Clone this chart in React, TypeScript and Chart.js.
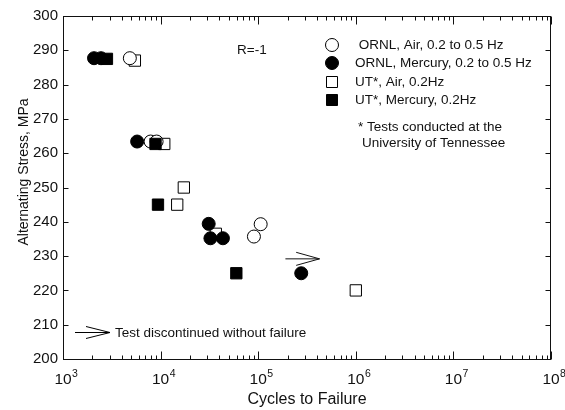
import React, { useEffect, useRef } from "react";
import { Chart, registerables } from "chart.js";

Chart.register(...registerables);

// ---- data ----
const ornlAirCycles = [4840, 7900, 9100, 90400, 106000];
const ornlAirStress = [287.7, 263.4, 263.4, 235.7, 239.3];

const ornlHgCycles = [2080, 2450, 5750, 31100, 32400, 43500, 276000];
const ornlHgStress = [287.7, 287.7, 263.4, 239.4, 235.2, 235.2, 225.0];

const utAirCycles = [5450, 10900, 17300, 14800, 36800, 1000000];
const utAirStress = [287.0, 262.7, 250.0, 245.0, 236.5, 220.0];

const utHgCycles = [2820, 8870, 9400, 59700];
const utHgStress = [287.5, 262.7, 245.0, 225.0];

// run-out arrow (test discontinued without failure)
const runoutCycles = [1.9e5, 4.25e5];
const runoutStress = 229.2;
const runoutHeadCycles = 2.45e5;
const runoutHeadStress = [231.1, 227.3];

const xExponents = [3, 4, 5, 6, 7, 8];
const yTickValues = [200, 210, 220, 230, 240, 250, 260, 270, 280, 290, 300];

const legendLabels = [
  " ORNL, Air, 0.2 to 0.5 Hz",
  "ORNL, Mercury, 0.2 to 0.5 Hz",
  "UT*, Air, 0.2Hz",
  "UT*, Mercury, 0.2Hz",
];

const FONT = "'Liberation Sans', Arial, Helvetica, sans-serif";
const INK = "#111";

function pts(xs: number[], ys: number[]) {
  return xs.map((x, i) => ({ x, y: ys[i] }));
}

const framePlugin = {
  id: "framePlugin",
  afterDatasetsDraw(chart: any) {
    const ctx = chart.ctx;
    const xs = chart.scales.x;
    const ys = chart.scales.y;
    ctx.save();
    ctx.strokeStyle = INK;
    ctx.lineWidth = 1;
    const x0 = xs.getPixelForValue(runoutCycles[0]);
    const x1 = xs.getPixelForValue(runoutCycles[1]);
    const yA = ys.getPixelForValue(runoutStress);
    const hx = xs.getPixelForValue(runoutHeadCycles);
    ctx.beginPath();
    ctx.moveTo(x0, yA);
    ctx.lineTo(x1, yA);
    ctx.moveTo(hx, ys.getPixelForValue(runoutHeadStress[0]));
    ctx.lineTo(x1, yA);
    ctx.lineTo(hx, ys.getPixelForValue(runoutHeadStress[1]));
    ctx.stroke();
    ctx.restore();
  },
  afterDraw(chart: any) {
    const ctx = chart.ctx;
    const { left, right, top, bottom } = chart.chartArea;
    const xs = chart.scales.x;
    const ys = chart.scales.y;
    ctx.save();
    ctx.strokeStyle = INK;
    ctx.lineWidth = 1;
    ctx.strokeRect(Math.round(left) + 0.5, Math.round(top) + 0.5, Math.round(right - left) - 1, Math.round(bottom - top));
    const L = Math.round(left) + 0.5;
    const R = Math.round(right) - 0.5;
    const T = Math.round(top) + 0.5;
    const B = Math.round(bottom) + 0.5;
    ctx.beginPath();
    yTickValues.forEach((v) => {
      const y = Math.round(ys.getPixelForValue(v)) + 0.5;
      ctx.moveTo(L, y);
      ctx.lineTo(L + 5, y);
      ctx.moveTo(R, y);
      ctx.lineTo(R - 5, y);
    });
    xExponents.forEach((e, i) => {
      const base = Math.pow(10, e);
      const x = Math.round(xs.getPixelForValue(base)) + 0.5;
      ctx.moveTo(x, B);
      ctx.lineTo(x, B - 8);
      ctx.moveTo(x, T);
      ctx.lineTo(x, T + 8);
      if (i < xExponents.length - 1) {
        for (let m = 2; m <= 9; m++) {
          const xm = Math.round(xs.getPixelForValue(m * base)) + 0.5;
          ctx.moveTo(xm, B);
          ctx.lineTo(xm, B - 4);
          ctx.moveTo(xm, T);
          ctx.lineTo(xm, T + 4);
        }
      }
    });
    ctx.stroke();

    ctx.fillStyle = INK;
    ctx.font = `15px ${FONT}`;
    ctx.textAlign = "right";
    ctx.textBaseline = "middle";
    yTickValues.forEach((v) => {
      ctx.fillText(String(v), left - 5, ys.getPixelForValue(v));
    });
    xExponents.forEach((e) => {
      const x = xs.getPixelForValue(Math.pow(10, e));
      ctx.font = `15.5px ${FONT}`;
      ctx.textAlign = "center";
      ctx.textBaseline = "alphabetic";
      ctx.fillText("10", x, bottom + 25);
      const w = ctx.measureText("10").width;
      ctx.font = `10.5px ${FONT}`;
      ctx.textAlign = "left";
      ctx.fillText(String(e), x + w / 2 + 0.5, bottom + 18);
    });
    ctx.font = `16px ${FONT}`;
    ctx.textAlign = "center";
    ctx.textBaseline = "middle";
    ctx.fillText("Cycles to Failure", (left + right) / 2, 400);
    ctx.save();
    ctx.translate(24, 172);
    ctx.rotate(-Math.PI / 2);
    ctx.font = `14px ${FONT}`;
    ctx.fillText("Alternating Stress, MPa", 0, 0);
    ctx.restore();

    ctx.font = `13.5px ${FONT}`;
    ctx.textAlign = "left";
    ctx.fillText("R=-1", 237, 50);

    const lx = 332;
    const rows = [45, 63, 82, 100];
    ctx.font = `13.5px ${FONT}`;
    ctx.textAlign = "left";
    ctx.textBaseline = "middle";
    rows.forEach((ry, i) => {
      ctx.beginPath();
      if (i < 2) {
        ctx.arc(lx, ry, 6.5, 0, Math.PI * 2);
      } else {
        ctx.rect(lx - 5.5, ry - 5.5, 11, 11);
      }
      ctx.fillStyle = i % 2 === 0 ? "#fff" : "#000";
      ctx.fill();
      ctx.strokeStyle = "#000";
      ctx.stroke();
      ctx.fillStyle = INK;
      ctx.fillText(legendLabels[i], 355, ry + 0.5);
    });
    ctx.fillText("* Tests conducted at the", 358, 127);
    ctx.fillText("University of Tennessee", 362, 143);

    ctx.beginPath();
    ctx.moveTo(75, 332.5);
    ctx.lineTo(110, 332.5);
    ctx.moveTo(86, 326.5);
    ctx.lineTo(110, 332.5);
    ctx.lineTo(86, 338.5);
    ctx.stroke();
    ctx.fillText("Test discontinued without failure", 115, 333);
    ctx.restore();
  },
};

export default function App() {
  const ref = useRef<HTMLCanvasElement | null>(null);
  useEffect(() => {
    document.body.style.margin = "0";
    if (!ref.current) return;
    const chart = new Chart(ref.current, {
      type: "scatter",
      data: {
        datasets: [
          {
            label: legendLabels[0],
            data: pts(ornlAirCycles, ornlAirStress),
            pointStyle: "circle",
            pointRadius: 6.5,
            pointBackgroundColor: "#fff",
            pointBorderColor: "#000",
            pointBorderWidth: 1,
            order: 2,
          },
          {
            label: legendLabels[1],
            data: pts(ornlHgCycles, ornlHgStress),
            pointStyle: "circle",
            pointRadius: 6.5,
            pointBackgroundColor: "#000",
            pointBorderColor: "#000",
            pointBorderWidth: 1,
            order: 0,
          },
          {
            label: legendLabels[2],
            data: pts(utAirCycles, utAirStress),
            pointStyle: "rect",
            pointRadius: 8,
            pointBackgroundColor: "#fff",
            pointBorderColor: "#000",
            pointBorderWidth: 1,
            order: 3,
          },
          {
            label: legendLabels[3],
            data: pts(utHgCycles, utHgStress),
            pointStyle: "rect",
            pointRadius: 8,
            pointBackgroundColor: "#000",
            pointBorderColor: "#000",
            pointBorderWidth: 1,
            order: 1,
          },
        ],
      },
      options: {
        responsive: false,
        animation: false,
        events: [],
        layout: { padding: { left: 63, right: 14, top: 16, bottom: 51 } },
        plugins: { legend: { display: false }, tooltip: { enabled: false } },
        scales: {
          x: { type: "logarithmic", min: 1e3, max: 1e8, display: false },
          y: { type: "linear", min: 200, max: 300, display: false },
        },
      },
      plugins: [framePlugin],
    });
    return () => chart.destroy();
  }, []);
  return <canvas ref={ref} width={565} height={410} style={{ display: "block", width: 565, height: 410 }} />;
}
